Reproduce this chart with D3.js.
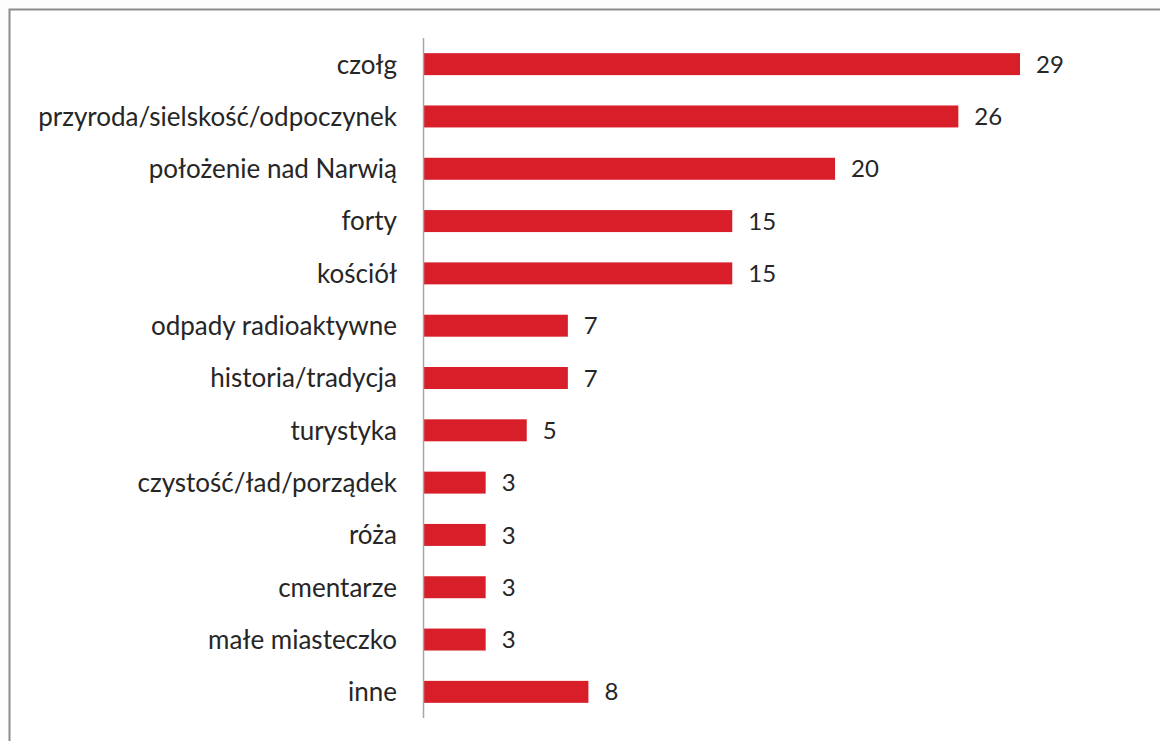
<!DOCTYPE html>
<html><head><meta charset="utf-8">
<script src="https://cdn.jsdelivr.net/npm/d3@7"></script>
<style>body{margin:0;background:#fff}</style>
</head><body>
<script>
const categories = ["czołg","przyroda/sielskość/odpoczynek","położenie nad Narwią","forty","kościół","odpady radioaktywne","historia/tradycja","turystyka","czystość/ład/porządek","róża","cmentarze","małe miasteczko","inne"];
const values = [29,26,20,15,15,7,7,5,3,3,3,3,8];

const W=1160,H=741;
const svg=d3.select("body").append("svg").attr("width",W).attr("height",H);
svg.append("rect").attr("width",W).attr("height",H).attr("fill","#fdfdfd");
svg.append("rect").attr("x",9.5).attr("y",9.5).attr("width",W+20).attr("height",H+20)
  .attr("fill","#fff").attr("stroke","#8c8c8c").attr("stroke-width",2);

const x=d3.scaleLinear().domain([0,29]).range([424,1020]);
const y=d3.scaleBand().domain(categories).range([38,718]).paddingInner(0.58).paddingOuter(0.29);

svg.selectAll("rect.bar").data(values).join("rect").attr("class","bar")
  .attr("x",x(0)).attr("y",(d,i)=>y(categories[i]))
  .attr("width",d=>x(d)-x(0)).attr("height",y.bandwidth())
  .attr("fill","#d81e28");

svg.append("line").attr("x1",423.5).attr("x2",423.5).attr("y1",38).attr("y2",718)
  .attr("stroke","#a6a6a6").attr("stroke-width",1.5);

const font="Lato, 'Open Sans', sans-serif";
svg.selectAll("text.cat").data(categories).join("text").attr("class","cat")
  .attr("x",397).attr("y",d=>y(d)+y.bandwidth()/2).attr("dy","0.36em")
  .attr("text-anchor","end").attr("font-family",font).attr("font-size",26)
  .attr("fill","#262626").text(d=>d);

svg.selectAll("text.val").data(values).join("text").attr("class","val")
  .attr("x",d=>x(d)+16).attr("y",(d,i)=>y(categories[i])+y.bandwidth()/2).attr("dy","0.36em")
  .attr("font-family",font).attr("font-size",24)
  .attr("fill","#262626").text(d=>d);
</script>
</body></html>
